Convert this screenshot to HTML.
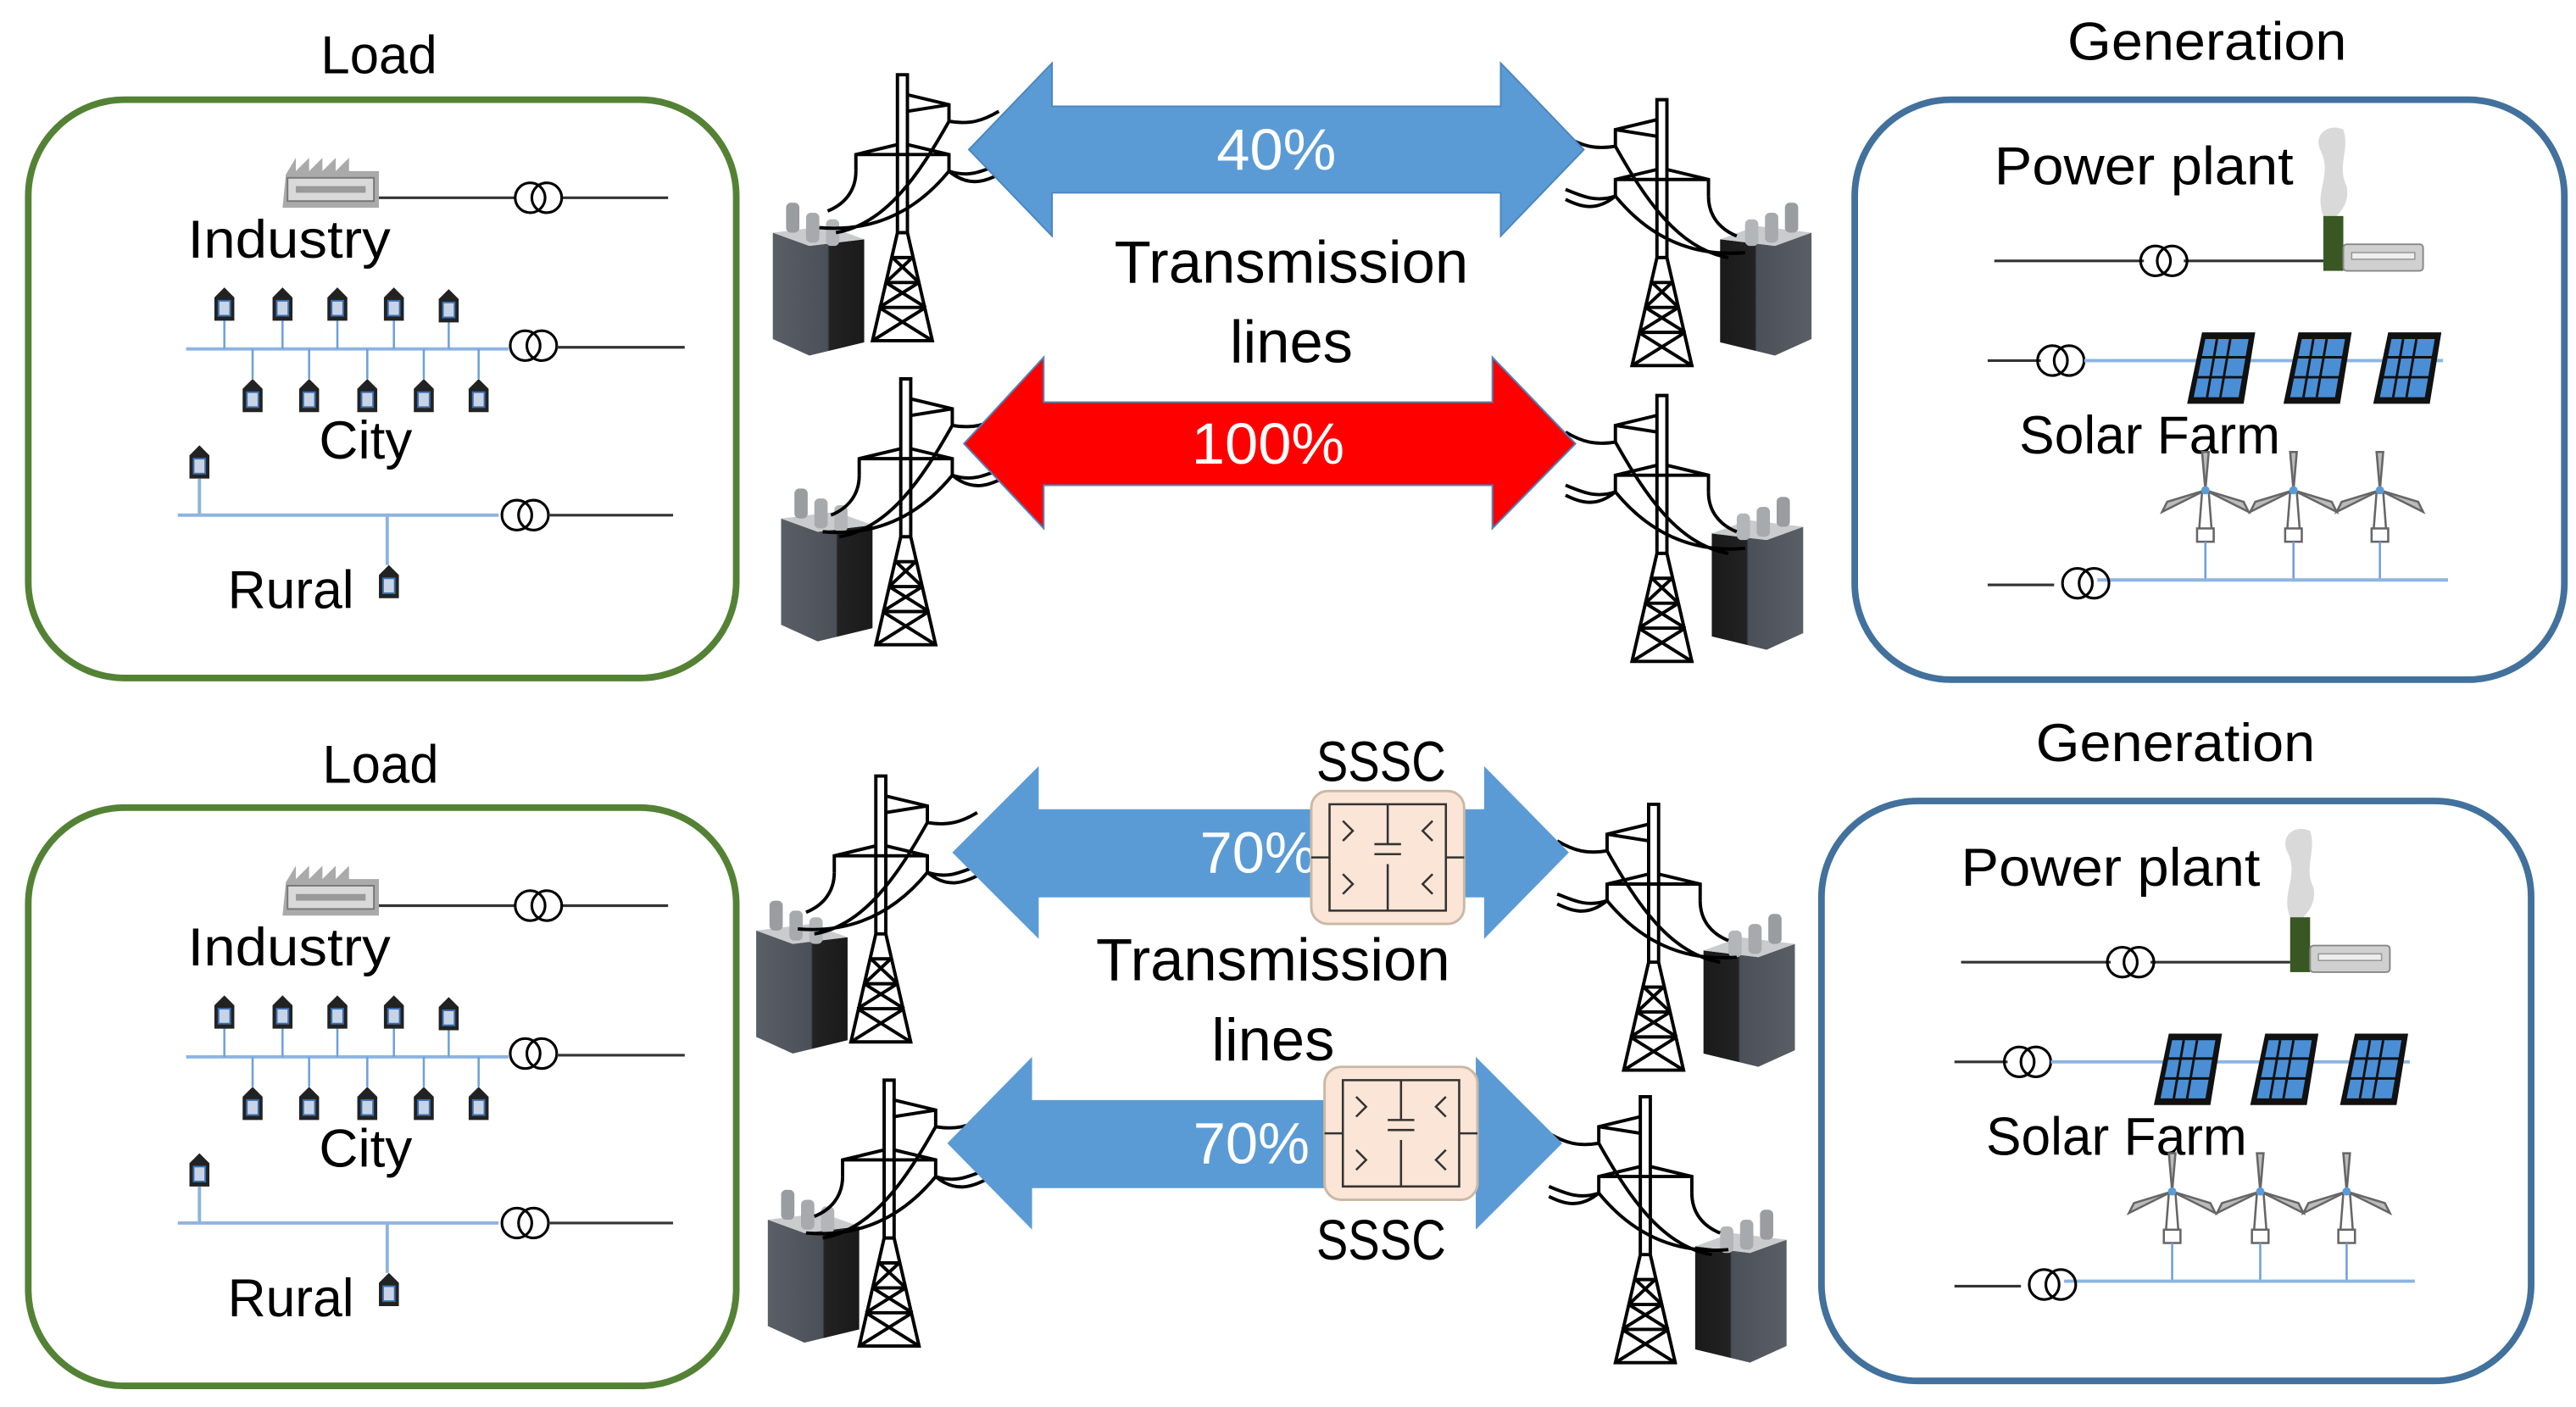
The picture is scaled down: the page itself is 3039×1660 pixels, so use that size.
<!DOCTYPE html>
<html><head><meta charset="utf-8"><style>
html,body{margin:0;padding:0;background:#fff;width:3039px;height:1660px;overflow:hidden}
svg{display:block}
text{font-family:"Liberation Sans",sans-serif}
</style></head><body>
<svg width="3039" height="1660" viewBox="0 0 1550 846.7" preserveAspectRatio="none" xmlns="http://www.w3.org/2000/svg">
<defs>
<g id="tower" fill="none" stroke="#000" stroke-width="2">
  <path d="M-3,0 L3,0 L3,95 L18,160 L-18,160 L-3,95 Z"/>
  <path d="M-3,95 L3,95 M-6,110 L6,110 M-10,125 L10,125 M-14,140 L14,140 M-6,110 L10,125 M6,110 L-10,125 M-10,125 L14,140 M10,125 L-14,140 M-14,140 L18,160 M14,140 L-18,160"/>
  <path d="M3,12 L28,18 L28,28 M3,22 L28,18"/>
  <path d="M-3,42 L-28,48 L-28,58 M3,42 L28,48 L28,58 M-28,48 L28,48"/>
  <path d="M28,28 C40,30 48,28 58,22 M28,58 C40,62 48,58 58,54 M28,58 C40,68 50,64 58,60 M-28,58 C-28,70 -35,78 -45,82 M28,28 C10,60 -10,90 -40,95 M28,58 C10,80 -15,95 -50,92"/>
</g>
<linearGradient id="xg" x1="0" x2="1"><stop offset="0" stop-color="#5a5f66"/><stop offset="0.6" stop-color="#4b5058"/><stop offset="0.62" stop-color="#222"/><stop offset="1" stop-color="#1a1a1a"/></linearGradient>
<g id="xf">
  <path d="M0,12 L22,20 L55,16 L55,78 L22,86 L0,76 Z" fill="url(#xg)"/>
  <path d="M0,12 L22,20 L55,16 L33,8 Z" fill="#c9cbcd"/>
  <rect x="8" y="-6" width="8" height="18" fill="#9a9da0" rx="3"/>
  <rect x="20" y="0" width="8" height="18" fill="#a7aaad" rx="3"/>
  <rect x="32" y="4" width="8" height="16" fill="#b3b6b9" rx="3"/>
</g>
<g id="house"><path d="M0,6 L6,0 L12,6 L12,20 L0,20 Z" fill="#222"/><rect x="2.5" y="8" width="7" height="9" fill="#c8d4e6" stroke="#3a6fb0" stroke-width="1"/></g>
<g id="tr" fill="none" stroke="#000" stroke-width="1.6"><circle cx="-5" cy="0" r="9"/><circle cx="5" cy="0" r="9"/></g>
<g id="load">
  <rect x="17" y="60" width="426" height="348" rx="58" fill="none" stroke="#548235" stroke-width="4"/>
  <g transform="translate(170,95)"><path d="M2,10 L8,0 L8,8 L16,0 L16,8 L24,0 L24,8 L32,0 L32,8 L40,0 L40,8 L58,8 L58,30 L0,30 Z" fill="#aaa"/><rect x="3" y="12" width="52" height="14" fill="#d9d9d9" stroke="#777"/><rect x="8" y="17" width="42" height="4" fill="#999"/></g>
  <path d="M228,119 H310 M338,119 H402" stroke="#333" stroke-width="1.6"/>
  <use href="#tr" x="324" y="119"/>
  <text x="113" y="155" font-size="32" textLength="122" lengthAdjust="spacingAndGlyphs">Industry</text>
  <path d="M112,210 H306" stroke="#8db4e2" stroke-width="2"/>
  <path d="M135,193 V210 M170,193 V210 M203,193 V210 M237,193 V210 M270,193 V210 M152,210 V228 M186,210 V228 M221,210 V228 M255,210 V228 M288,210 V228" stroke="#6fa0dc" stroke-width="1.3"/>
  <use href="#house" x="129" y="173"/><use href="#house" x="164" y="173"/><use href="#house" x="197" y="173"/><use href="#house" x="231" y="173"/><use href="#house" x="264" y="174"/>
  <use href="#house" x="146" y="228"/><use href="#house" x="180" y="228"/><use href="#house" x="215" y="228"/><use href="#house" x="249" y="228"/><use href="#house" x="282" y="228"/>
  <use href="#tr" x="321" y="208"/><path d="M335,209 H412" stroke="#333" stroke-width="1.6"/>
  <text x="192" y="276" font-size="32" textLength="56" lengthAdjust="spacingAndGlyphs">City</text>
  <use href="#house" x="114" y="268"/>
  <path d="M107,310 H300 M120,288 V310 M233,310 V340" stroke="#8db4e2" stroke-width="2"/>
  <use href="#tr" x="316" y="310"/><path d="M330,310 H405" stroke="#333" stroke-width="1.6"/>
  <use href="#house" x="228" y="340"/>
  <text x="137" y="366" font-size="32" textLength="76" lengthAdjust="spacingAndGlyphs">Rural</text>
</g>
<g id="gen">
  <rect x="1116" y="60" width="427" height="349" rx="58" fill="none" stroke="#41719c" stroke-width="4"/>
  <text x="1200" y="111" font-size="32" textLength="180" lengthAdjust="spacingAndGlyphs">Power plant</text>
  <path d="M1398,130 C1392,115 1404,105 1396,90 C1392,80 1402,74 1410,78 C1414,90 1406,100 1412,112 C1414,122 1408,128 1404,132 Z" fill="#d9d9d9"/>
  <rect x="1398" y="130" width="12" height="33" fill="#385723"/>
  <rect x="1410" y="147" width="48" height="16" rx="2" fill="#d0d0d0" stroke="#888"/><rect x="1415" y="152" width="38" height="4" fill="#eee" stroke="#999" stroke-width="0.8"/>
  <path d="M1200,157 H1290 M1314,157 H1398" stroke="#333" stroke-width="1.6"/><use href="#tr" x="1302" y="157"/>
  <path d="M1196,217 H1228" stroke="#333" stroke-width="1.6"/><use href="#tr" x="1240" y="217"/>
  <path d="M1254,217 H1470" stroke="#8db4e2" stroke-width="2"/>
  <g id="pnl"><path d="M1325,200 L1357,200 L1350,243 L1316,243 Z" fill="#111"/><path d="M1327,204 L1353,204 L1347,239 L1320,239 Z" fill="#4a8fd6"/><path d="M1324,215 H1352 M1322,227 H1350 M1334,204 L1328,239 M1342,204 L1336,239" stroke="#111" stroke-width="1.5"/></g>
  <use href="#pnl" x="58"/><use href="#pnl" x="112"/>
  <text x="1215" y="273" font-size="32" textLength="157" lengthAdjust="spacingAndGlyphs">Solar Farm</text>
  <g id="wt" stroke="#666" stroke-width="1.3" fill="#fff"><path d="M1325,296 L1323,322 L1331,322 L1329,296 Z"/><rect x="1322" y="318" width="10" height="8"/><path d="M1327,295 L1325,272 L1329,272 Z M1327,295 L1301,308 L1304,302 Z M1327,295 L1353,308 L1350,302 Z" fill="#bbb"/><circle cx="1327" cy="295" r="2.5" fill="#5b9bd5" stroke="none"/><path d="M1327,326 V349" stroke="#6fa0dc"/></g>
  <use href="#wt" x="53"/><use href="#wt" x="105"/>
  <path d="M1262,349 H1473" stroke="#8db4e2" stroke-width="2"/>
  <path d="M1196,352 H1236" stroke="#333" stroke-width="1.6"/><use href="#tr" x="1255" y="351"/>
</g>
</defs>

<text x="228" y="44" font-size="32" text-anchor="middle" textLength="70" lengthAdjust="spacingAndGlyphs">Load</text>
<use href="#load"/>
<text x="229" y="471" font-size="32" text-anchor="middle" textLength="70" lengthAdjust="spacingAndGlyphs">Load</text>
<use href="#load" y="426"/>

<text x="1328" y="36" font-size="32" text-anchor="middle" textLength="168" lengthAdjust="spacingAndGlyphs">Generation</text>
<use href="#gen"/>
<text x="1309" y="458" font-size="32" text-anchor="middle" textLength="168" lengthAdjust="spacingAndGlyphs">Generation</text>
<use href="#gen" x="-20" y="422"/>

<use href="#xf" x="465" y="128"/><use href="#tower" x="543" y="45"/>
<use href="#xf" x="470" y="300"/><use href="#tower" x="545" y="228"/>
<g transform="translate(1090,0) scale(-1,1)"><use href="#xf" x="0" y="128"/></g><use href="#tower" x="1000" y="60" transform="translate(2000,0) scale(-1,1)"/>
<g transform="translate(1085,0) scale(-1,1)"><use href="#xf" x="0" y="305"/></g><use href="#tower" x="1000" y="238" transform="translate(2000,0) scale(-1,1)"/>

<use href="#xf" x="455" y="548"/><use href="#tower" x="530" y="467"/>
<use href="#xf" x="462" y="722"/><use href="#tower" x="535" y="650"/>
<g transform="translate(1080,0) scale(-1,1)"><use href="#xf" x="0" y="556"/></g><use href="#tower" x="995" y="484" transform="translate(1990,0) scale(-1,1)"/>
<g transform="translate(1075,0) scale(-1,1)"><use href="#xf" x="0" y="734"/></g><use href="#tower" x="990" y="660" transform="translate(1980,0) scale(-1,1)"/>

<path d="M583,90 L633,38 L633,64 L903,64 L903,38 L953,90 L903,142 L903,116 L633,116 L633,142 Z" fill="#5b9bd5" stroke="#4a86c0" stroke-width="1"/>
<text x="768" y="102" font-size="35" fill="#fff" text-anchor="middle" textLength="72" lengthAdjust="spacingAndGlyphs">40%</text>
<text x="777" y="170" font-size="36" text-anchor="middle" textLength="213" lengthAdjust="spacingAndGlyphs">Transmission</text>
<text x="777" y="218" font-size="36" text-anchor="middle" textLength="74" lengthAdjust="spacingAndGlyphs">lines</text>
<path d="M580,267 L628,215 L628,242 L898,242 L898,215 L948,267 L898,318 L898,292 L628,292 L628,318 Z" fill="#ff0000" stroke="#4a86c0" stroke-width="1"/>
<text x="763" y="279" font-size="35" fill="#fff" text-anchor="middle" textLength="92" lengthAdjust="spacingAndGlyphs">100%</text>

<path d="M573,513 L625,461 L625,487 L893,487 L893,461 L944,513 L893,565 L893,540 L625,540 L625,565 Z" fill="#5b9bd5"/>
<text x="757" y="525" font-size="35" fill="#fff" text-anchor="middle" textLength="70" lengthAdjust="spacingAndGlyphs">70%</text>
<text x="831" y="470" font-size="34" text-anchor="middle" textLength="78" lengthAdjust="spacingAndGlyphs">SSSC</text>
<g id="sssc">
<rect x="789" y="476" width="92" height="80" rx="10" fill="#fbe5d6" stroke="#c9b9a6" stroke-width="1.5"/>
<path d="M800,484 H870 V548 H800 Z M835,484 V508 M835,520 V548 M827,508 H843 M827,514 H843 M800,516 H789 M870,516 H881 M808,494 L814,500 L808,506 M862,494 L856,500 L862,506 M808,526 L814,532 L808,538 M862,526 L856,532 L862,538" fill="none" stroke="#333" stroke-width="1.3"/>
</g>
<text x="766" y="590" font-size="36" text-anchor="middle" textLength="213" lengthAdjust="spacingAndGlyphs">Transmission</text>
<text x="766" y="638" font-size="36" text-anchor="middle" textLength="74" lengthAdjust="spacingAndGlyphs">lines</text>
<path d="M570,688 L621,636 L621,662 L888,662 L888,636 L940,688 L888,740 L888,715 L621,715 L621,740 Z" fill="#5b9bd5"/>
<text x="753" y="700" font-size="35" fill="#fff" text-anchor="middle" textLength="70" lengthAdjust="spacingAndGlyphs">70%</text>
<use href="#sssc" x="8" y="166"/>
<text x="831" y="758" font-size="34" text-anchor="middle" textLength="78" lengthAdjust="spacingAndGlyphs">SSSC</text>
</svg>
</body></html>
